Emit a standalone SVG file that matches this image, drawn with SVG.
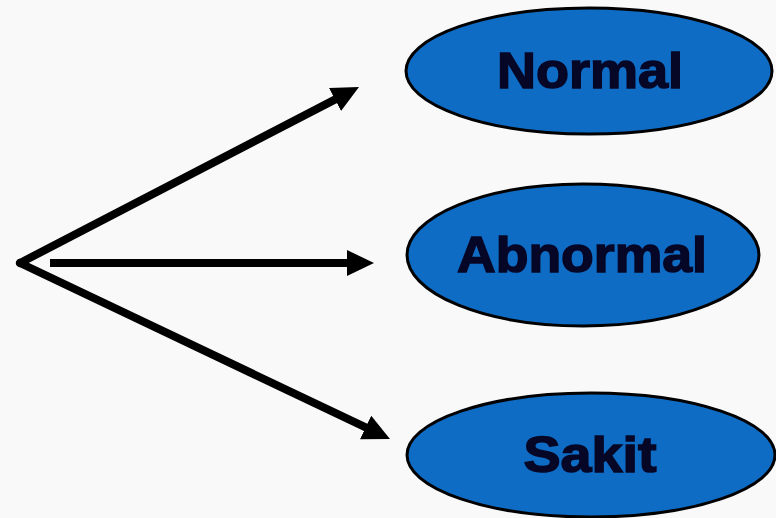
<svg xmlns="http://www.w3.org/2000/svg" width="776" height="518" viewBox="0 0 776 518">
  <style>
    .node ellipse { fill: #0f6cc4; stroke: #000; stroke-width: 3; }
    .node text { font-family: "Liberation Sans", Arial, sans-serif; font-weight: bold; font-size: 50px; fill: #060626; stroke: #060626; stroke-width: 1.5; text-anchor: middle; }
    .conn line { stroke: #000; stroke-width: 8; }
  </style>
  <defs>
    <marker id="ah" markerUnits="userSpaceOnUse" markerWidth="30" markerHeight="28" refX="3" refY="13" orient="auto">
      <path d="M0,0 L27,13 L0,26 z" fill="#000"/>
    </marker>
  </defs>
  <rect width="776" height="518" fill="#f9f9f9"/>
  <g id="connectors" class="conn">
    <line x1="20" y1="263" x2="337.7" y2="98.1" marker-end="url(#ah)" stroke-linecap="round"/>
    <line x1="50" y1="263" x2="350" y2="263" marker-end="url(#ah)"/>
    <line x1="20" y1="263" x2="368.3" y2="428.7" marker-end="url(#ah)" stroke-linecap="round"/>
  </g>
  <g id="normal" class="node">
    <ellipse cx="589" cy="71" rx="183" ry="63"/>
    <text x="590" y="88" textLength="186" lengthAdjust="spacingAndGlyphs">Normal</text>
  </g>
  <g id="abnormal" class="node">
    <ellipse cx="583" cy="255" rx="176" ry="71"/>
    <text x="582" y="272" textLength="250" lengthAdjust="spacingAndGlyphs">Abnormal</text>
  </g>
  <g id="sakit" class="node">
    <ellipse cx="591" cy="455" rx="184" ry="62"/>
    <text x="590" y="472" textLength="133" lengthAdjust="spacingAndGlyphs">Sakit</text>
  </g>
</svg>
